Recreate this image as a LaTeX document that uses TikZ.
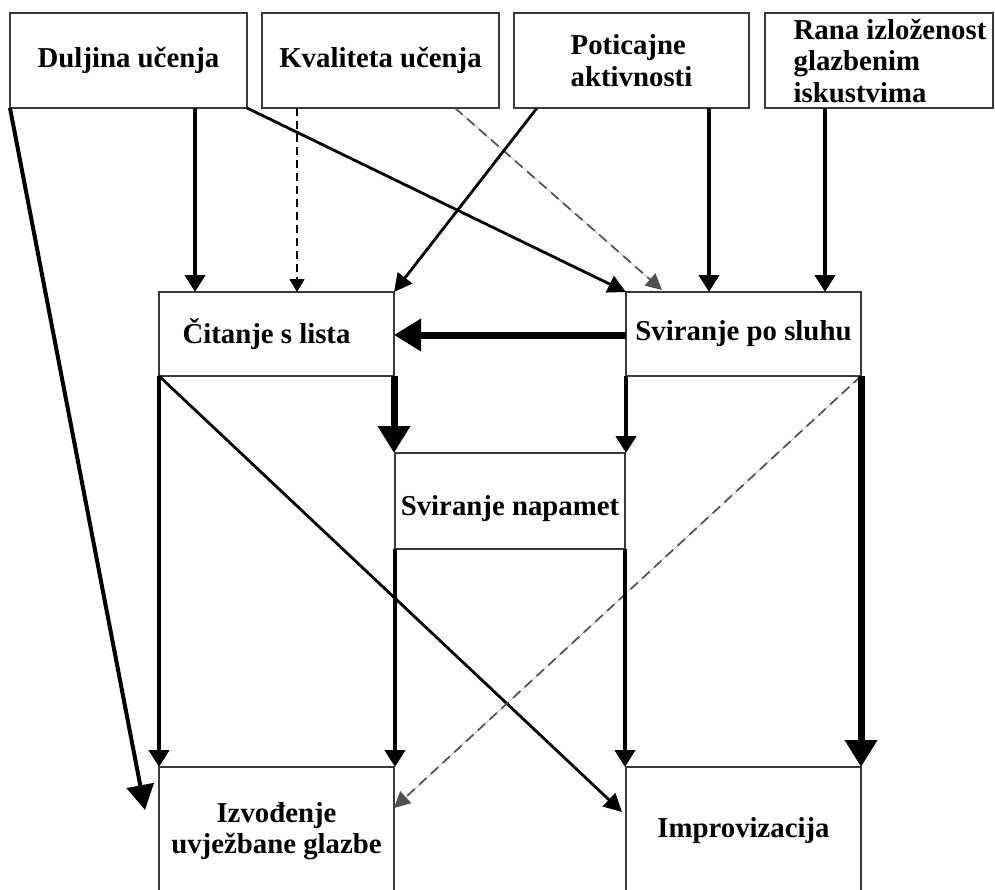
\documentclass[tikz,border=0pt]{standalone}
\usepackage{fontspec}
\setmainfont{Liberation Serif}
\usetikzlibrary{arrows.meta,calc}
\definecolor{boxgray}{HTML}{3A3A3A}
\definecolor{dashgray}{HTML}{505050}
\begin{document}
\begin{tikzpicture}[x=1pt,y=-1pt,
  box/.style={draw=boxgray, line width=1.4pt, inner sep=0pt, outer sep=0pt,
    font=\fontsize{28.8}{31.5}\selectfont\bfseries, text=black},
  thickarr/.style={line width=4.8pt, -{Triangle[length=17pt,width=20pt]}},
  heavyarr/.style={line width=7pt, -{Triangle[length=27pt,width=31pt]}},
  medarr/.style={line width=2.8pt, -{Triangle[length=18pt,width=18pt]}},
  longarr/.style={line width=4pt, -{Triangle[length=25pt,width=27pt]}},
  dasharr/.style={line width=1.3pt, dash pattern=on 8pt off 5pt, -{Triangle[length=13pt,width=15pt]}},
  graydash/.style={draw=dashgray, line width=1.7pt, dash pattern=on 10pt off 6pt,
    -{Triangle[length=16pt,width=16pt]}, fill=black}
]
\useasboundingbox (0,0) rectangle (995,889);
\clip (0,0) rectangle (995,889);
\fill[white] (0,0) rectangle (995,889);

% top row
\node[box, minimum width=237pt, minimum height=95pt] (dul) at (128.5,60.5) {Duljina učenja};
\node[box, minimum width=237pt, minimum height=95pt] (kva) at (380.5,60.5) {Kvaliteta učenja};
\node[box, minimum width=235pt, minimum height=95pt, align=left] (pot) at (631.5,60.5) {Poticajne\\aktivnosti};
\node[box, minimum width=228pt, minimum height=95pt] (ran) at (879,60.5)
  {\raisebox{-10pt}[47pt][47pt]{\begin{tabular}{@{\hspace{22pt}}l@{}}Rana izloženost\\glazbenim\\iskustvima\end{tabular}}};

% middle
\node[box, minimum width=235pt, minimum height=84pt] (cit) at (276.5,334) {\hspace*{-20pt}Čitanje s lista};
\node[box, minimum width=235pt, minimum height=84pt] (slu) at (743.5,334) {Sviranje po sluhu};
\node[box, minimum width=230pt, minimum height=96pt, text height=35pt, text depth=6pt] (nap) at (510,501) {Sviranje napamet};

% bottom
\node[box, minimum width=235pt, minimum height=128pt, align=center] (izv) at (276.5,831) {Izvođenje\\uvježbane glazbe};
\node[box, minimum width=235pt, minimum height=128pt] (imp) at (743.5,831) {Improvizacija};

% connectors from top row
\draw[longarr] (dul.south west) -- ([xshift=-14pt,yshift=-43pt]izv.north west);
\draw[thickarr] ([xshift=185pt]dul.south west) -- ([xshift=185pt]dul.south west |- cit.north);
\draw[medarr] (dul.south east) -- (slu.north west);
\draw[dasharr] ([xshift=35pt]kva.south west) -- ([xshift=35pt]kva.south west |- cit.north);
\draw[graydash] ([xshift=193pt]kva.south west) -- ([xshift=36pt,yshift=2pt]slu.north west);
\draw[medarr] ([xshift=23pt]pot.south west) -- (cit.north east);
\draw[thickarr] ([xshift=195pt]pot.south west) -- ([xshift=195pt]pot.south west |- slu.north);
\draw[thickarr] ([xshift=60pt]ran.south west) -- ([xshift=60pt]ran.south west |- slu.north);

% middle connectors
\draw[heavyarr] ([yshift=-1pt]slu.west) -- ([yshift=-1pt]cit.east);
\draw[thickarr] (cit.south west) -- (izv.north west);
\draw[heavyarr] (cit.south east) -- (cit.south east |- nap.north);
\draw[medarr] (cit.south west) -- ([xshift=-4pt,yshift=-45pt]imp.north west);
\draw[thickarr] (slu.south west) -- (slu.south west |- nap.north);
\draw[graydash] (slu.south east) -- ([yshift=-41pt]izv.north east);
\draw[heavyarr] (slu.south east) -- (imp.north east);
\draw[thickarr] (nap.south west) -- (nap.south west |- izv.north);
\draw[thickarr] (nap.south east) -- (nap.south east |- imp.north);
\end{tikzpicture}
\end{document}
